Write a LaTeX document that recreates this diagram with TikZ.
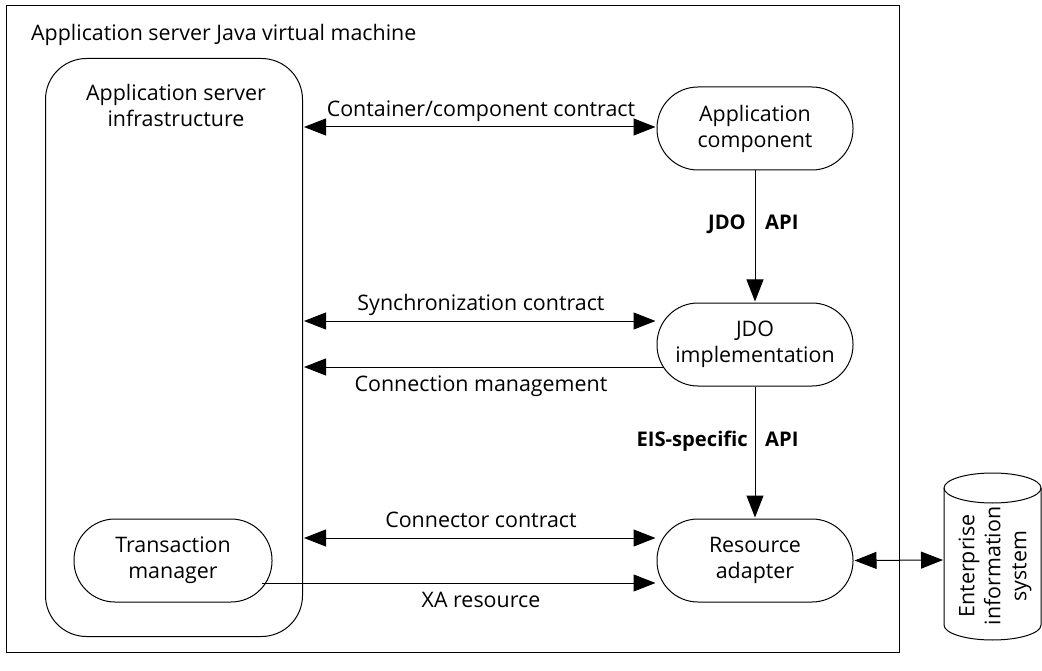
\documentclass[tikz,border=0pt]{standalone}
\usepackage{fontspec}
\setmainfont{Open Sans}
\usetikzlibrary{arrows.meta,positioning}
\newcommand{\lbl}{\fontsize{21.4pt}{26pt}\selectfont}
\newcommand{\blbl}{\fontsize{20.2pt}{26pt}\selectfont\bfseries}
\tikzset{
  box/.style={draw,line width=1pt,rounded corners=41pt,inner sep=0pt,align=center,font=\lbl},
  infrabox/.style={draw,line width=1pt,rounded corners=41pt,inner sep=0pt},
  lab/.style={font=\lbl,inner sep=0pt,align=center},
  blab/.style={font=\blbl,inner sep=0pt},
  conn/.style={line width=1pt,-{Triangle[length=22pt,width=17pt]},shorten >=1pt},
  dconn/.style={line width=1pt,{Triangle[length=22pt,width=17pt]}-{Triangle[length=22pt,width=17pt]},shorten >=1pt,shorten <=1pt}
}
\begin{document}
\begin{tikzpicture}[x=1pt,y=-1pt]
\useasboundingbox (0,0) rectangle (1042,671);
\node[draw,line width=1pt,minimum width=893pt,minimum height=647pt,inner sep=0pt,anchor=north west] (jvm) at (6,5) {};
\node[lab,anchor=base west] (jvmt) at (31,41) {Application server Java virtual machine};
\node[infrabox,minimum width=257pt,minimum height=578pt,anchor=north west] (infra) at (45,58) {};
\node[lab] (infrat) at (176,105) {Application server\\infrastructure};
\node[box,minimum width=196pt,minimum height=83pt] (comp) at (755,128.5) {Application\\component};
\node[box,minimum width=196pt,minimum height=83pt] (impl) at (755,344.5) {JDO\\implementation};
\node[box,minimum width=196pt,minimum height=83pt] (ra) at (755,560.5) {Resource\\adapter};
\node[box,minimum width=198pt,minimum height=83pt] (tm) at (173,560.5) {Transaction\\manager};
% cylinder
\draw[line width=1pt] (944,488) arc[start angle=180,end angle=-180,x radius=48.5pt,y radius=15pt];
\draw[line width=1pt] (944,488) -- (944,625) arc[start angle=180,end angle=360,x radius=48.5pt,y radius=15pt] -- (1041,488);
\node[lab,rotate=90] (eis) at (995,566) {Enterprise\\information\\system};
\coordinate (eisw) at (944,560);
% levels
\coordinate (a) at (0,127);
\coordinate (b) at (0,321);
\coordinate (c) at (0,367);
\coordinate (d) at (0,538);
\coordinate (e) at (0,583);
\coordinate (c0) at (664,367);
\coordinate (e0) at (262,583);
\draw[dconn] (infra.east |- a) -- (comp.west |- a);
\draw[dconn] (infra.east |- b) -- (impl.west |- b);
\draw[conn] (c0) -- (infra.east |- c);
\draw[dconn] (infra.east |- d) -- (ra.west |- d);
\draw[conn] (e0) -- (ra.west |- e);
\draw[conn] (comp) -- (impl);
\draw[conn] (impl) -- (ra);
\draw[dconn] (ra.east) -- (eisw);
% labels
\node[lab,anchor=base] (l1) at (481,117) {Container/component contract};
\node[lab,anchor=base] (l2) at (481,310) {Synchronization contract};
\node[lab,anchor=base] (l3) at (481,391) {Connection management};
\node[lab,anchor=base] (l4) at (481,527) {Connector contract};
\node[lab,anchor=base] (l5) at (481,607) {XA resource};
\node[blab,anchor=base east] (j1) at (746,230) {JDO};
\node[blab,anchor=base west] (j2) at (765,230) {API};
\node[blab,anchor=base east] (j3) at (748,446) {EIS-specific};
\node[blab,anchor=base west] (j4) at (765,446) {API};
\end{tikzpicture}
\end{document}
